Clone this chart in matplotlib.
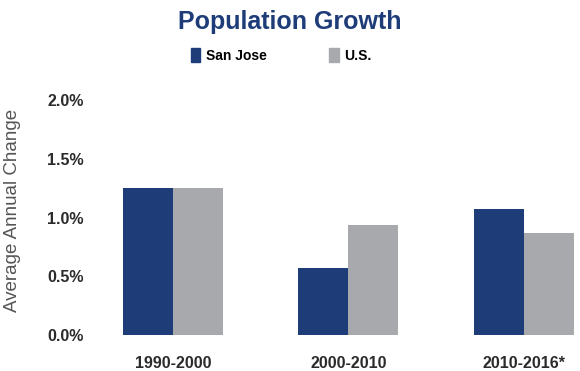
import matplotlib
matplotlib.use("Agg")
import matplotlib.pyplot as plt
import numpy as np
from matplotlib.patches import Patch

plt.rcParams["font.family"] = ["Liberation Sans", "DejaVu Sans"]

periods = ["1990-2000", "2000-2010", "2010-2016*"]
san_jose = [1.25, 0.57, 1.07]
us = [1.25, 0.94, 0.87]

navy = "#1d3c78"
grey = "#a7a9ac"
text_dark = "#2b2b2b"

fig = plt.figure(figsize=(5.8, 3.71), dpi=100)
ax = fig.add_axes([95 / 580, 36 / 371, 485 / 580, 235 / 371])

x = np.arange(len(periods))
w = 0.285
ax.bar(x - w / 2, san_jose, width=w, color=navy, label="San Jose")
ax.bar(x + w / 2, us, width=w, color=grey, label="U.S.")

ax.set_xlim(-0.444, 2.319)
ax.set_ylim(0, 2.0)
ax.set_yticks([0, 0.5, 1.0, 1.5, 2.0])
ax.set_yticklabels([f"{v:.1f}%" for v in [0, 0.5, 1.0, 1.5, 2.0]],
                   fontsize=11.5, fontweight="bold", color=text_dark)
ax.set_xticks(x)
ax.set_xticklabels(periods, fontsize=11.5, fontweight="bold", color=text_dark)
ax.tick_params(axis="both", length=0)
ax.tick_params(axis="y", pad=8)
ax.tick_params(axis="x", pad=15)
for s in ax.spines.values():
    s.set_visible(False)

ax.set_ylabel("Average Annual Change", fontsize=13.5, color="#555555")
ax.yaxis.set_label_coords(-0.153, 0.532)

fig.text(0.5, 0.942, "Population Growth", ha="center", va="center",
         fontsize=18, fontweight="bold", color=navy)

handles = [Patch(color=navy, label="San Jose"), Patch(color=grey, label="U.S.")]
fig.legend(handles=handles, loc="center", bbox_to_anchor=(0.485, 0.85), ncol=2,
           frameon=False, handlelength=0.7, handleheight=1.1, handletextpad=0.4,
           columnspacing=4.5, prop={"size": 10, "weight": "bold"})

fig.savefig("out.png", dpi=100)
